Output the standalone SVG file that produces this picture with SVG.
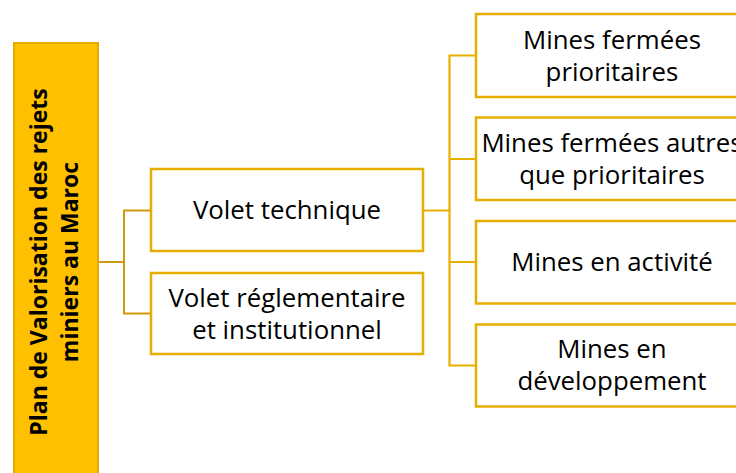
<svg xmlns="http://www.w3.org/2000/svg" width="736" height="473" viewBox="0 0 736 473">
<style>
.box{fill:#FFFFFF;stroke:#E6AE00;stroke-width:2.5}
.root{fill:#FFC000;stroke:#E3AC00;stroke-width:2}
.t{font-family:"Open Sans","Liberation Sans",sans-serif;font-size:25.8px;fill:#000;text-anchor:middle}
.tb{font-family:"Open Sans","Liberation Sans",sans-serif;font-size:23px;font-weight:bold;fill:#000;text-anchor:middle}
.c1{fill:none;stroke:#CC9C0E;stroke-width:2}
.c2{fill:none;stroke:#E6B000;stroke-width:2.2}
</style>
<rect width="736" height="473" fill="#FFFFFF"/>
<g id="connectors">
<path class="c1" d="M98,262 H124 M151,210.5 H124 V313.5 H151"/>
<path class="c2" d="M422,210.5 H449.5 M476,55.5 H449.5 V365.5 H476 M449.5,159 H476 M449.5,262 H476"/>
</g>
<g id="root">
<rect class="root" x="14" y="43" width="84" height="440"/>
<text class="tb" transform="translate(47,262) rotate(-90)">Plan de Valorisation des rejets</text>
<text class="tb" transform="translate(78,262) rotate(-90)">miniers au Maroc</text>
</g>
<g id="volet-technique">
<rect class="box" x="151" y="169" width="272" height="82"/>
<text class="t" x="287" y="219">Volet technique</text>
</g>
<g id="volet-reglementaire">
<rect class="box" x="151" y="273" width="272" height="81"/>
<text class="t" x="287" y="306.5">Volet réglementaire</text>
<text class="t" x="287" y="338.5">et institutionnel</text>
</g>
<g id="mines-fermees-prioritaires">
<rect class="box" x="476" y="14" width="272" height="83"/>
<text class="t" x="612" y="48.5">Mines fermées</text>
<text class="t" x="612" y="80.5">prioritaires</text>
</g>
<g id="mines-fermees-autres">
<rect class="box" x="476" y="117.5" width="272" height="82.5"/>
<text class="t" x="612" y="151.5">Mines fermées autres</text>
<text class="t" x="612" y="183.5">que prioritaires</text>
</g>
<g id="mines-en-activite">
<rect class="box" x="476" y="221" width="272" height="82.5"/>
<text class="t" x="612" y="271">Mines en activité</text>
</g>
<g id="mines-en-developpement">
<rect class="box" x="476" y="324.5" width="272" height="82"/>
<text class="t" x="612" y="357.5">Mines en</text>
<text class="t" x="612" y="389.5">développement</text>
</g>
</svg>
